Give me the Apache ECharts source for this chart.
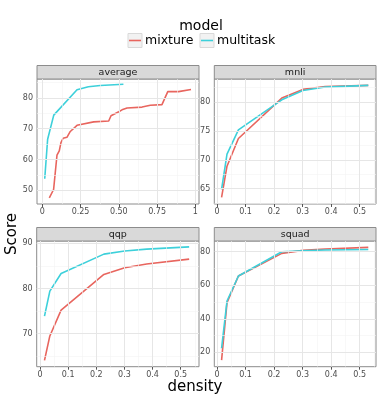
<!DOCTYPE html>
<html>
<head>
<meta charset="utf-8">
<script src="https://cdn.jsdelivr.net/npm/echarts@6/dist/echarts.min.js"></script>
<style>
  html, body { margin: 0; padding: 0; background: #fff; }
  #chart { width: 382px; height: 402px; }
</style>
</head>
<body>
<div id="chart"></div>
<script>
// panels and models
const panels = ['average', 'mnli', 'qqp', 'squad'];
const models = ['mixture', 'multitask'];

// density values shared by most series
const densities = [0.016, 0.035, 0.075, 0.227, 0.301, 0.379, 0.53];

// average panel, mixture has its own density grid
const avgMixDensity = [0.046, 0.074, 0.096, 0.111, 0.122, 0.136, 0.161, 0.183, 0.227, 0.336, 0.434,
  0.449, 0.500, 0.521, 0.554, 0.652, 0.706, 0.782, 0.820, 0.890, 0.972];
const avgMixScore = [47.6, 50.3, 61.4, 62.8, 65.5, 66.9, 67.2, 69.1, 71.1, 72.2, 72.5,
  74.2, 75.5, 76.1, 76.7, 77.0, 77.6, 77.8, 82.0, 82.0, 82.7];
const avgMultiScore = [53.8, 66.6, 74.4, 82.6, 83.6, 84.0, 84.4];

const mnliMixScore = [63.5, 68.9, 73.7, 80.7, 82.2, 82.7, 82.9];
const mnliMultiScore = [64.9, 71.0, 75.2, 80.4, 82.0, 82.6, 82.9];

const qqpMixScore = [64.1, 69.5, 75.2, 83.1, 84.6, 85.4, 86.5];
const qqpMultiScore = [73.9, 79.4, 83.3, 87.6, 88.3, 88.7, 89.2];

const squadMixScore = [15.3, 49.6, 65.5, 79.0, 80.8, 81.6, 82.6];
const squadMultiScore = [22.4, 50.6, 65.5, 80.0, 80.6, 81.0, 81.3];

// tick labels
const avgXTicks = [0, 0.25, 0.5, 0.75, 1];
const avgXTickLabels = ['0', '0.25', '0.50', '0.75', '1'];
const smallXTicks = [0, 0.1, 0.2, 0.3, 0.4, 0.5];
const avgYTicks = [50, 60, 70, 80];
const mnliYTicks = [65, 70, 75, 80];
const qqpYTicks = [70, 80, 90];
const squadYTicks = [20, 40, 60, 80];

const colors = { mixture: '#E8655E', multitask: '#3DD0DA' };

function zip(xs, ys) { return xs.map((x, i) => [x, ys[i]]); }

// minor grid values: midpoints between majors, plus one step on each side
function minors(major) {
  const step = major[1] - major[0];
  const out = [major[0] - step / 2];
  major.forEach(v => out.push(+(v + step / 2).toFixed(4)));
  return out;
}

const panelCfg = [
  { name: 'average', left: 37, top: 79, width: 162, height: 125,
    xMin: -0.0345, xMax: 1.024, yMin: 45.6, yMax: 86.1,
    xTicks: avgXTicks, xLabels: avgXTickLabels, yTicks: avgYTicks,
    mix: zip(avgMixDensity, avgMixScore), multi: zip(densities, avgMultiScore) },
  { name: 'mnli', left: 214.3, top: 79, width: 161.7, height: 125,
    xMin: -0.0095, xMax: 0.557, yMin: 62.35, yMax: 84,
    xTicks: smallXTicks, xLabels: null, yTicks: mnliYTicks,
    mix: zip(densities, mnliMixScore), multi: zip(densities, mnliMultiScore) },
  { name: 'qqp', left: 36.7, top: 241, width: 162.3, height: 125.7,
    xMin: -0.0117, xMax: 0.565, yMin: 62.7, yMax: 90.5,
    xTicks: smallXTicks, xLabels: null, yTicks: qqpYTicks,
    mix: zip(densities, qqpMixScore), multi: zip(densities, qqpMultiScore) },
  { name: 'squad', left: 214.3, top: 241, width: 161.7, height: 125.7,
    xMin: -0.0095, xMax: 0.557, yMin: 11.4, yMax: 86.4,
    xTicks: smallXTicks, xLabels: null, yTicks: squadYTicks,
    mix: zip(densities, squadMixScore), multi: zip(densities, squadMultiScore) }
];

const grids = [], xAxes = [], yAxes = [], series = [], graphics = [];
const tickFont = { fontSize: 8, color: '#4d4d4d', fontFamily: 'DejaVu Sans' };

panelCfg.forEach((p, i) => {
  grids.push({ left: p.left, top: p.top, width: p.width, height: p.height,
    show: true, backgroundColor: '#fff', borderColor: '#8c8c8c', borderWidth: 1 });

  xAxes.push({ type: 'value', gridIndex: i, min: p.xMin, max: p.xMax,
    axisLine: { show: false }, splitLine: { show: false },
    axisTick: { show: true, length: 3, customValues: p.xTicks, lineStyle: { color: '#555' } },
    axisLabel: Object.assign({ customValues: p.xTicks, margin: 4,
      formatter: v => p.xLabels ? p.xLabels[p.xTicks.findIndex(t => Math.abs(t - v) < 1e-6)] : String(+v.toFixed(2)) }, tickFont) });

  yAxes.push({ type: 'value', gridIndex: i, min: p.yMin, max: p.yMax,
    axisLine: { show: false }, splitLine: { show: false },
    axisTick: { show: true, length: 3, customValues: p.yTicks, lineStyle: { color: '#555' } },
    axisLabel: Object.assign({ customValues: p.yTicks, margin: 4 }, tickFont) });

  // gridlines through the axis scales
  const xMinor = minors(p.xTicks).filter(v => v > p.xMin && v < p.xMax);
  const yMinor = minors(p.yTicks).filter(v => v > p.yMin && v < p.yMax);
  const minorStyle = { color: '#f3f3f3', width: 0.6, type: 'solid' };
  const majorStyle = { color: '#e6e6e6', width: 1, type: 'solid' };
  const lines = []
    .concat(xMinor.map(v => ({ xAxis: v, lineStyle: minorStyle })))
    .concat(yMinor.map(v => ({ yAxis: v, lineStyle: minorStyle })))
    .concat(p.xTicks.map(v => ({ xAxis: v, lineStyle: majorStyle })))
    .concat(p.yTicks.map(v => ({ yAxis: v, lineStyle: majorStyle })));
  series.push({ type: 'line', xAxisIndex: i, yAxisIndex: i, z: 1, silent: true,
    data: [p.mix[0]], showSymbol: false, lineStyle: { opacity: 0 },
    markLine: { silent: true, symbol: ['none', 'none'], label: { show: false },
      animation: false, data: lines } });

  series.push({ name: 'mixture', type: 'line', xAxisIndex: i, yAxisIndex: i, z: 3,
    data: p.mix, showSymbol: false, lineStyle: { color: colors.mixture, width: 1.6 } });
  series.push({ name: 'multitask', type: 'line', xAxisIndex: i, yAxisIndex: i, z: 3,
    data: p.multi, showSymbol: false, lineStyle: { color: colors.multitask, width: 1.6 } });

  // facet strip
  const stripH = 13.5;
  graphics.push({ type: 'rect', shape: { x: p.left, y: p.top - stripH, width: p.width, height: stripH },
    style: { fill: '#d9d9d9', stroke: '#8c8c8c', lineWidth: 1 } });
  graphics.push({ type: 'text', x: p.left + p.width / 2, y: p.top - stripH / 2,
    style: { text: p.name, fill: '#1a1a1a', font: '9.5px "DejaVu Sans"', align: 'center', verticalAlign: 'middle' } });
});

// legend (ggplot-style keys)
graphics.push({ type: 'text', x: 201, y: 26,
  style: { text: 'model', fill: '#000', font: '14px "DejaVu Sans"', align: 'center', verticalAlign: 'middle' } });
[[128, 'mixture'], [200, 'multitask']].forEach(([x, m]) => {
  graphics.push({ type: 'rect', shape: { x: x, y: 33.5, width: 14, height: 14 },
    style: { fill: '#f2f2f2', stroke: '#d9d9d9', lineWidth: 1 } });
  graphics.push({ type: 'line', shape: { x1: x + 1, y1: 40.5, x2: x + 13, y2: 40.5 },
    style: { stroke: colors[m], lineWidth: 1.6 } });
  graphics.push({ type: 'text', x: x + 17, y: 40.5,
    style: { text: m, fill: '#000', font: '12.5px "DejaVu Sans"', align: 'left', verticalAlign: 'middle' } });
});

// axis titles
graphics.push({ type: 'text', x: 195, y: 387,
  style: { text: 'density', fill: '#000', font: '15px "DejaVu Sans"', align: 'center', verticalAlign: 'middle' } });
graphics.push({ type: 'text', x: 12, y: 234, rotation: Math.PI / 2,
  style: { text: 'Score', fill: '#000', font: '15px "DejaVu Sans"', align: 'center', verticalAlign: 'middle' } });

const chart = echarts.init(document.getElementById('chart'), null, { renderer: 'canvas' });
chart.setOption({
  animation: false,
  backgroundColor: '#fff',
  grid: grids,
  xAxis: xAxes,
  yAxis: yAxes,
  series: series,
  graphic: graphics
});
</script>
</body>
</html>
